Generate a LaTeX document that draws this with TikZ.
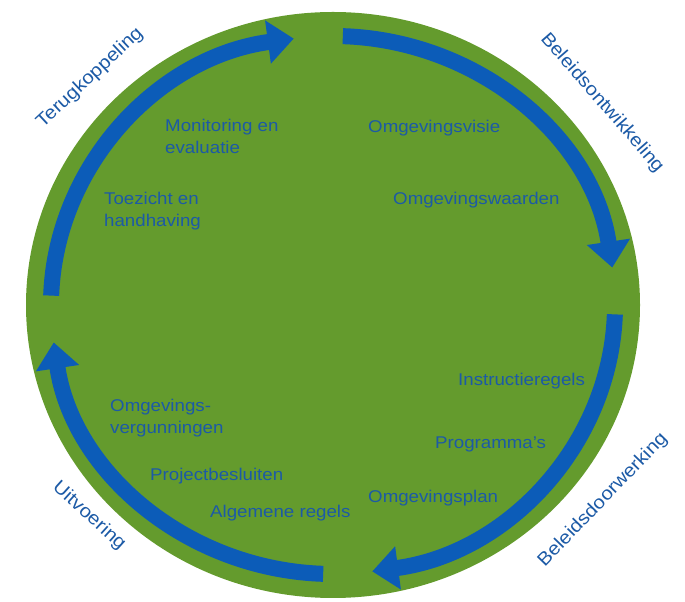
\documentclass[tikz,border=0pt]{standalone}
\usepackage{fontspec}
\setmainfont{Liberation Sans}[FakeStretch=1.1]
\usetikzlibrary{arrows.meta,calc}
\definecolor{discgreen}{RGB}{100,155,45}
\definecolor{arrowblue}{RGB}{12,92,184}
\definecolor{textblue}{RGB}{28,90,166}
\begin{document}
\begin{tikzpicture}[x=1pt,y=1pt,
  cyclearrow/.style={draw=arrowblue,line width=16pt,line cap=butt,
    -{Triangle[width=42pt,length=26pt]}},
  inlabel/.style={text=textblue,font=\fontsize{17}{22}\selectfont,inner sep=0pt,anchor=west,align=left},
  outlabel/.style={text=textblue,font=\fontsize{18.5}{22}\selectfont,inner sep=0pt}]
\useasboundingbox (0,0) rectangle (685,602);
\coordinate (C) at (333,297);
\fill[discgreen] (C) ellipse [x radius=307, y radius=293];
% arc start points
\coordinate (s1) at ($(C)+(178:282 and 269)$);
\coordinate (s2) at ($(C)+(88:282 and 269)$);
\coordinate (s3) at ($(C)+(-2:282 and 269)$);
\coordinate (s4) at ($(C)+(-92:282 and 269)$);
\draw[cyclearrow] (s1) arc[start angle=178, end angle=98, x radius=282, y radius=269];
\draw[cyclearrow] (s2) arc[start angle=88, end angle=8, x radius=282, y radius=269];
\draw[cyclearrow] (s3) arc[start angle=-2, end angle=-82, x radius=282, y radius=269];
\draw[cyclearrow] (s4) arc[start angle=-92, end angle=-172, x radius=282, y radius=269];
% inner labels
\node[inlabel] (mon) at (165,466) {Monitoring en\\evaluatie};
\node[inlabel] (toe) at (104,391) {Toezicht en\\handhaving};
\node[inlabel] (visie) at (368,474) {Omgevingsvisie};
\node[inlabel] (waarden) at (393,402) {Omgevingswaarden};
\node[inlabel] (instr) at (458,221) {Instructieregels};
\node[inlabel] (prog) at (435,158) {Programma’s};
\node[inlabel] (plan) at (368,104) {Omgevingsplan};
\node[inlabel] (verg) at (110,184) {Omgevings-\\vergunningen};
\node[inlabel] (proj) at (150,126) {Projectbesluiten};
\node[inlabel] (alg) at (210,89) {Algemene regels};
% outer labels
\node[outlabel,rotate=43] (terug) at (90,524) {Terugkoppeling};
\node[outlabel,rotate=-49] (bont) at (602,499) {Beleidsontwikkeling};
\node[outlabel,rotate=46] (bdoor) at (603,102) {Beleidsdoorwerking};
\node[outlabel,rotate=-42] (uit) at (89,86) {Uitvoering};
\end{tikzpicture}
\end{document}
